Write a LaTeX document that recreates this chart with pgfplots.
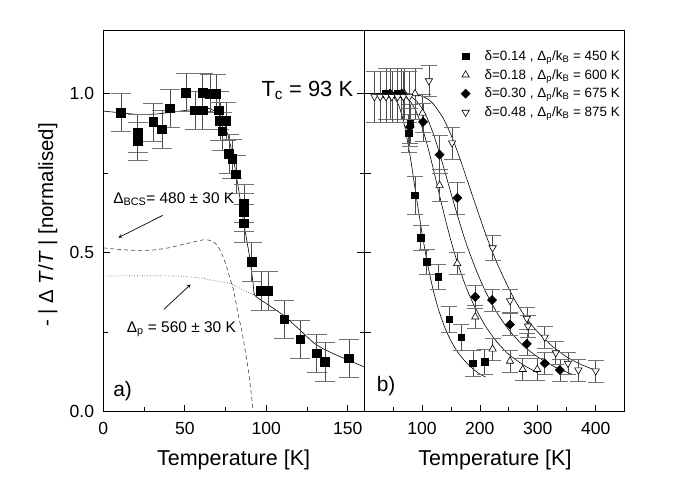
\documentclass[border=0pt]{standalone}
\usepackage{fontspec}
\setmainfont{Liberation Sans}
\usepackage{pgfplots}
\pgfplotsset{compat=1.18}
\begin{document}
\begin{tikzpicture}[x=1bp,y=1bp]
\useasboundingbox (0,0) rectangle (695,485);
\pgfplotsset{
 common/.style={
  scale only axis, width=260.7bp, height=381.7bp, anchor=south west,
  ymin=0, ymax=1.2,
  tick align=inside, major tick length=7bp, minor tick length=4.5bp,
  axis line style={line width=0.8pt},
  every tick/.style={line width=0.7pt, black},
  every minor tick/.style={line width=0.7pt, black},
  tick label style={font=\fontsize{17.6}{20}\selectfont, inner sep=0pt},
  /pgf/number format/assume math mode=true,
  xtick pos=left,
  xticklabel shift=10bp, yticklabel shift=9bp,
  clip=true,
  every axis plot/.append style={line width=0.6pt},
 },
 eb/.style={error bars/.cd, y dir=both, y explicit,
   error bar style={line width=0.6pt, black!70},
   error mark=-,
   error mark options={rotate=90, black!55, line width=0.6pt, mark size=#1}},
}
% ---------------- panel a ----------------
\begin{axis}[common, at={(103.3bp,73.3bp)},
  xmin=0, xmax=160,
  xtick={0,50,100,150}, minor xtick={25,75,125},
  ytick={0,0.5,1.0}, minor ytick={0.25,0.75}, ytick pos=both,
  yticklabel style={/pgf/number format/.cd, fixed, fixed zerofill, precision=1},
]
\addplot[black, line width=0.6pt, smooth, tension=0.4] coordinates {
(0,0.945)(10,0.94)(20,0.935)(30,0.935)(40,0.94)(50,0.947)(60,0.953)(65,0.953)(70,0.94)(74,0.91)(77,0.86)(80,0.79)(83,0.70)(86,0.60)(88,0.54)(90,0.48)(92,0.40)(93,0.366)(100,0.34)(110,0.305)(120,0.26)(130,0.213)(140,0.185)(150,0.163)(160,0.141)};
\addplot[black!75, dashed, line width=0.6pt, dash pattern=on 4bp off 3bp, smooth, tension=0.4] coordinates {
(0,0.515)(10,0.51)(20,0.507)(30,0.508)(40,0.515)(50,0.527)(58,0.537)(63,0.541)(66,0.537)(69,0.528)(72,0.505)(75,0.466)(78,0.415)(80,0.38)(83,0.30)(85,0.255)(87,0.195)(89,0.13)(90.5,0.07)(92,0.0)};
\addplot[black!75, dotted, line width=0.7pt, smooth, tension=0.4] coordinates {
(0,0.427)(40,0.427)(50,0.425)(60,0.42)(65,0.415)(70,0.41)(77.7,0.403)(85,0.385)(93,0.366)};
\addplot[only marks, mark=square*, mark size=4.3bp, black, eb=10bp] table[x=x,y=y,y error=e] {
x y e
10.9 0.940 0.06
21.1 0.876 0.06
21.1 0.850 0.06
30.7 0.911 0.06
36.0 0.888 0.06
40.9 0.954 0.06
50.7 1.003 0.06
56.2 0.948 0.06
60.9 1.003 0.06
60.9 0.948 0.06
65.4 1.000 0.06
69.1 1.000 0.06
70.9 0.948 0.06
71.5 0.914 0.06
75.2 0.914 0.06
73.0 0.882 0.06
77.1 0.811 0.06
79.1 0.795 0.06
81.4 0.746 0.06
86.3 0.654 0.06
86.3 0.628 0.06
86.3 0.592 0.06
91.0 0.471 0.06
96.7 0.380 0.06
101.2 0.380 0.06
111.0 0.290 0.06
120.8 0.228 0.06
131.0 0.183 0.06
136.1 0.157 0.06
150.8 0.168 0.06
};
\node[anchor=base east, font=\fontsize{22}{26}\selectfont] at (axis cs:155.5,0.99) {T\textsubscript{c} = 93 K};
\node[anchor=base west, font=\fontsize{15.5}{18}\selectfont, inner sep=0pt] at (axis cs:6,0.655) {Δ\textsubscript{BCS}= 480 ± 30 K};
\draw[-stealth, line width=0.7pt] (axis cs:36.4,0.617) -- (axis cs:9.2,0.547);
\node[anchor=base west, font=\fontsize{15.5}{18}\selectfont, inner sep=0pt] at (axis cs:14.3,0.248) {Δ\textsubscript{p} = 560 ± 30 K};
\draw[-stealth, line width=0.7pt] (axis cs:37.2,0.322) -- (axis cs:53.6,0.400);
\node[anchor=base west, font=\fontsize{21}{24}\selectfont, inner sep=0pt] at (axis cs:6,0.047) {a)};
\end{axis}
% ---------------- panel b ----------------
\begin{axis}[common, at={(364bp,73.3bp)},
  xmin=0, xmax=450,
  xtick={100,200,300,400}, minor xtick={50,150,250,350},
  ytick={0,0.25,0.5,0.75,1.0}, yticklabels={}, ytick pos=left,
  legend style={draw=none, fill=none, at={(0.345,0.957)}, anchor=north west,
    font=\fontsize{13.5}{15}\selectfont, row sep=3.5bp, cells={anchor=west}},
  legend image code/.code={
    \draw[#1] plot coordinates {(0.3cm,0cm)};
    \path[draw=none, fill=none] (0cm,0cm) rectangle (0.9cm,0.01cm);},
]
\addplot[black, forget plot, smooth, tension=0.4] coordinates {
(0,1.0)(30,1.0)(40,0.999)(50,0.991)(60,0.963)(70,0.899)(80,0.799)(90,0.679)(100,0.563)(110,0.461)(120,0.378)(130,0.313)(140,0.262)(150,0.223)(160,0.192)(170,0.168)(180,0.148)(190,0.132)(200,0.118)(210,0.109)};
\addplot[black, forget plot, smooth, tension=0.4] coordinates {
(0,1.0)(50,1.0)(60,0.998)(70,0.991)(80,0.975)(90,0.944)(100,0.896)(110,0.833)(120,0.760)(130,0.683)(140,0.608)(150,0.538)(160,0.476)(175,0.397)(190,0.334)(210,0.268)(230,0.218)(250,0.180)(275,0.147)(300,0.122)};
\addplot[black, forget plot, smooth, tension=0.4] coordinates {
(0,1.0)(60,1.0)(70,0.997)(80,0.991)(90,0.978)(100,0.954)(110,0.919)(120,0.872)(130,0.815)(140,0.752)(150,0.688)(160,0.625)(170,0.565)(180,0.510)(195,0.439)(210,0.377)(230,0.310)(250,0.257)(275,0.207)(300,0.172)(330,0.140)(360,0.117)};
\addplot[black, forget plot, smooth, tension=0.4] coordinates {
(0,1.0)(70,1.0)(80,0.999)(90,0.997)(100,0.992)(110,0.983)(120,0.967)(136,0.925)(150,0.871)(165,0.799)(180,0.718)(195,0.637)(210,0.558)(225,0.487)(240,0.425)(260,0.352)(280,0.294)(300,0.250)(325,0.206)(350,0.172)(375,0.148)(400,0.130)};
% squares delta=0.14
\addplot[only marks, mark=square*, mark size=3.3bp, black, eb=8bp] table[x=x,y=y,y error=e] {
x y e
38 1.0 0.08
58 1.0 0.08
77 0.875 0.06
80 0.905 0.06
88 0.68 0.06
98 0.547 0.04
108 0.471 0.04
128 0.424 0.04
147 0.290 0.04
168 0.234 0.04
188 0.152 0.04
208 0.157 0.04
};
\addlegendentry{δ=0.14 , Δ\textsubscript{p}/k\textsubscript{B} = 450 K}
% up triangles delta=0.18
\addplot[only marks, mark=triangle*, mark size=4.2bp, mark options={fill=white, draw=black}, black, eb=8bp] table[x=x,y=y,y error=e] {
x y e
70 1.0 0.08
88 1.0 0.08
101 0.939 0.06
130.5 0.712 0.05
161 0.466 0.035
192 0.298 0.035
222 0.197 0.035
252 0.159 0.035
274 0.133 0.035
299 0.133 0.035
};
\addlegendentry{δ=0.18 , Δ\textsubscript{p}/k\textsubscript{B} = 600 K}
% diamonds delta=0.30
\addplot[only marks, mark=square*, mark size=3.2bp, mark options={rotate=45}, black, eb=8bp] table[x=x,y=y,y error=e] {
x y e
45 1.0 0.08
65 1.0 0.08
79 0.895 0.06
102 0.911 0.06
130.5 0.808 0.06
161 0.672 0.05
192 0.361 0.035
221 0.351 0.035
252 0.274 0.035
281 0.213 0.035
312 0.152 0.035
338 0.131 0.035
};
\addlegendentry{δ=0.30 , Δ\textsubscript{p}/k\textsubscript{B} = 675 K}
% down triangles delta=0.48
\addplot[only marks, mark=triangle*, mark size=4.2bp, mark options={rotate=180, fill=white, draw=black}, black, eb=8bp] table[x=x,y=y,y error=e] {
x y e
18 0.99 0.08
28 0.99 0.08
38 0.99 0.08
48 0.99 0.08
58 0.99 0.08
68 0.99 0.08
78 0.99 0.08
112 1.04 0.05
152 0.845 0.05
222 0.515 0.04
252 0.349 0.035
281 0.293 0.035
283 0.269 0.035
312 0.234 0.035
331 0.185 0.035
352 0.152 0.035
370 0.131 0.035
400 0.128 0.035
};
\addlegendentry{δ=0.48 , Δ\textsubscript{p}/k\textsubscript{B} = 875 K}
\node[anchor=base west, font=\fontsize{21}{24}\selectfont, inner sep=0pt] at (axis cs:21.8,0.063) {b)};
\end{axis}
\node[anchor=base, font=\fontsize{21.6}{24}\selectfont] at (233.6,19.3) {Temperature [K]};
\node[anchor=base, font=\fontsize{21.6}{24}\selectfont] at (495,19.3) {Temperature [K]};
\node[rotate=90, font=\fontsize{20.5}{24}\selectfont] at (48,260) {- | Δ \textit{T}/\textit{T} | [normalised]};
\end{tikzpicture}
\end{document}
